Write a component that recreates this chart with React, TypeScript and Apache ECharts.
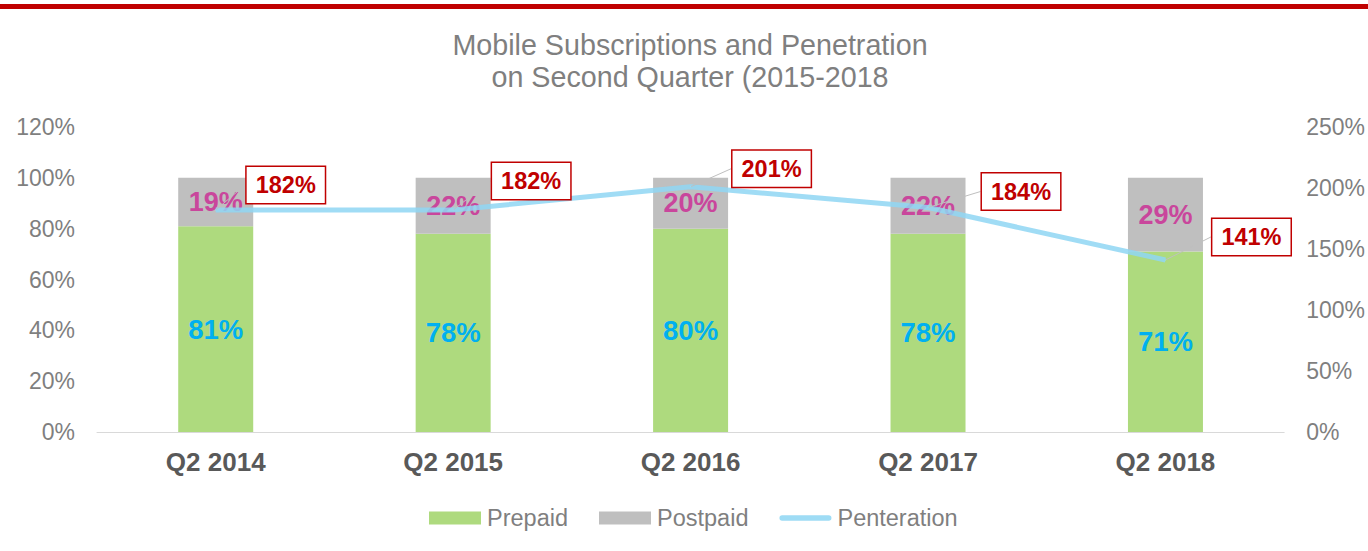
import React, { useEffect, useRef } from "react";
import * as echarts from "echarts";

const categories = ["Q2 2014", "Q2 2015", "Q2 2016", "Q2 2017", "Q2 2018"];
const prepaid = [81, 78, 80, 78, 71];
const postpaid = [19, 22, 20, 22, 29];
const penetration = [182, 182, 201, 184, 141];
const leftTicks = { min: 0, max: 120, interval: 20 };
const rightTicks = { min: 0, max: 250, interval: 50 };

const labelOffsets = [
  [70, -25],
  [78, -29],
  [81, -18],
  [93, -16],
  [86, -23],
];

const FONT = "'Liberation Sans', Arial, sans-serif";

export default function App() {
  const ref = useRef<HTMLDivElement>(null);
  useEffect(() => {
    if (!ref.current) return;
    const chart = echarts.init(ref.current, null, { renderer: "svg" });
    chart.setOption({
      animation: false,
      backgroundColor: "#ffffff",
      textStyle: { fontFamily: FONT },
      title: {
        text: "Mobile Subscriptions and Penetration\non Second Quarter (2015-2018",
        left: 685,
        textAlign: "center",
        top: 24,
        textStyle: {
          fontFamily: FONT,
          fontSize: 28.7,
          fontWeight: "normal",
          color: "#7f7f7f",
          lineHeight: 32,
        },
      },
      graphic: [
        {
          type: "rect",
          shape: { x: 0, y: 4, width: 1368, height: 5 },
          style: { fill: "#C00000" },
        },
      ],
      legend: {
        left: 424,
        top: 501,
        itemWidth: 52,
        itemHeight: 13,
        itemGap: 31,
        textStyle: { fontFamily: FONT, fontSize: 23.5, color: "#7f7f7f", padding: [0, 0, 0, 1] },
        data: [
          { name: "Prepaid", icon: "rect" },
          { name: "Postpaid", icon: "rect" },
          {
            name: "Penteration",
            icon: "path://M3,0 L55,0 A3,3 0 0 1 55,6 L3,6 A3,3 0 0 1 3,0 Z",
            itemStyle: { color: "#9EDCF5", opacity: 1 },
          },
        ],
      },
      grid: { left: 97, right: 83, top: 127, bottom: 119 },
      xAxis: {
        type: "category",
        data: categories,
        axisTick: { show: false },
        axisLine: { lineStyle: { color: "#D9D9D9", width: 1 } },
        axisLabel: {
          fontFamily: FONT,
          fontSize: 26,
          fontWeight: "bold",
          color: "#595959",
          margin: 17,
        },
      },
      yAxis: [
        {
          type: "value",
          min: leftTicks.min,
          max: leftTicks.max,
          interval: leftTicks.interval,
          splitLine: { show: false },
          axisLine: { show: false },
          axisTick: { show: false },
          axisLabel: {
            formatter: "{value}%",
            fontFamily: FONT,
            fontSize: 23,
            color: "#7f7f7f",
            margin: 22,
          },
        },
        {
          type: "value",
          min: rightTicks.min,
          max: rightTicks.max,
          interval: rightTicks.interval,
          splitLine: { show: false },
          axisLine: { show: false },
          axisTick: { show: false },
          axisLabel: {
            formatter: "{value}%",
            fontFamily: FONT,
            fontSize: 23,
            color: "#7f7f7f",
            margin: 22,
          },
        },
      ],
      series: [
        {
          name: "Prepaid",
          type: "bar",
          stack: "total",
          barWidth: 75,
          data: prepaid,
          itemStyle: { color: "#AEDA7E" },
          label: {
            show: true,
            position: "inside",
            formatter: "{c}%",
            fontFamily: FONT,
            fontSize: 27.5,
            fontWeight: "bold",
            color: "#00B0F0",
          },
        },
        {
          name: "Postpaid",
          type: "bar",
          stack: "total",
          barWidth: 75,
          data: postpaid,
          itemStyle: { color: "#BFBFBF" },
          label: {
            show: true,
            position: "inside",
            formatter: "{c}%",
            fontFamily: FONT,
            fontSize: 27,
            fontWeight: "bold",
            color: "#C9469C",
          },
        },
        {
          name: "Penteration",
          type: "line",
          yAxisIndex: 1,
          data: penetration,
          symbol: "circle",
          symbolSize: 1,
          showSymbol: true,
          lineStyle: { color: "#8FD6F3", width: 5, opacity: 0.85 },
          itemStyle: { color: "#9EDCF5" },
          label: {
            show: true,
            position: "inside",
            formatter: "{c}%",
            fontFamily: FONT,
            fontSize: 23.5,
            lineHeight: 24,
            fontWeight: "bold",
            color: "#C00000",
            backgroundColor: "#ffffff",
            borderColor: "#C00000",
            borderWidth: 1.5,
            padding: [6, 9, 6, 9],
          },
          labelLine: {
            show: true,
            lineStyle: { color: "#BFBFBF", width: 1 },
          },
          labelLayout: (params: any) => {
            const o = labelOffsets[params.dataIndex] || [0, 0];
            return { dx: o[0], dy: o[1] };
          },
        },
      ],
    });
    return () => chart.dispose();
  }, []);
  return (
    <div
      ref={ref}
      style={{ position: "fixed", left: 0, top: 0, width: 1368, height: 551 }}
    />
  );
}
